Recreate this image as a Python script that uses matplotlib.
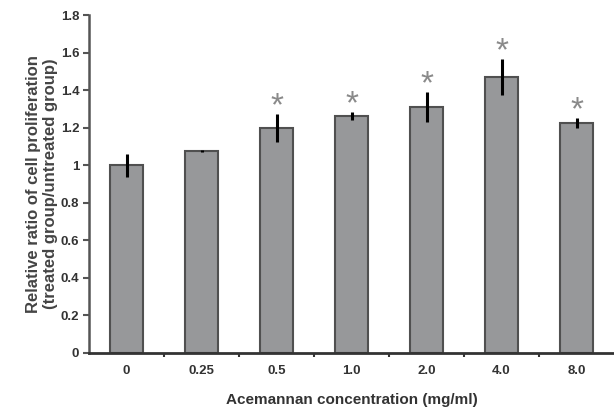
import numpy as np
import matplotlib.pyplot as plt

plt.rcParams['font.family'] = ['Liberation Sans', 'DejaVu Sans']

concentrations = ['0', '0.25', '0.5', '1.0', '2.0', '4.0', '8.0']
ratios = [1.0, 1.077, 1.198, 1.262, 1.31, 1.471, 1.225]
errors = [0.06, 0.005, 0.075, 0.02, 0.08, 0.095, 0.027]
significant = [False, False, True, True, True, True, True]

fig = plt.figure(figsize=(6.14, 4.08), dpi=100)
ax = fig.add_axes([0.145, 0.135, 0.855, 0.828])

x = np.arange(len(concentrations))
ax.bar(x, ratios, width=0.45, color='#97989a', edgecolor='#505050', linewidth=1.5, zorder=2)
ax.errorbar(x, ratios, yerr=errors, fmt='none',
            ecolor='black', elinewidth=2.2, capsize=0, zorder=3)

for xi, r, e, s in zip(x, ratios, errors, significant):
    if s:
        ax.annotate('*', (xi, r + e), xytext=(0, -6), textcoords='offset points',
                    ha='center', va='bottom', fontsize=24, color='#8a8a8a')

ax.set_xlim(-0.5, len(concentrations) - 0.5)
ax.set_ylim(0, 1.8)
ax.set_yticks(np.arange(0, 1.81, 0.2))
ax.set_yticklabels(['0', '0.2', '0.4', '0.6', '0.8', '1', '1.2', '1.4', '1.6', '1.8'])
ax.set_xticks(x)
ax.set_xticklabels(concentrations)
ax.set_xticks(x[:-1] + 0.5, minor=True)
ax.tick_params(axis='x', which='major', length=0, pad=9)
ax.tick_params(axis='x', which='minor', length=3, width=1.5, color='#333333')
ax.tick_params(axis='y', length=4, width=1.5, color='#555555', pad=3)
for lab in ax.get_xticklabels() + ax.get_yticklabels():
    lab.set_fontsize(9.5)
    lab.set_fontweight('bold')
    lab.set_color('#333333')

for side in ['top', 'right']:
    ax.spines[side].set_visible(False)
ax.spines['left'].set_color('#555555')
ax.spines['left'].set_linewidth(1.8)
ax.spines['bottom'].set_color('#333333')
ax.spines['bottom'].set_linewidth(2)

ax.set_xlabel('Acemannan concentration (mg/ml)', fontsize=11, fontweight='bold', color='#333333', labelpad=11)
ax.set_ylabel('Relative ratio of cell proliferation\n(treated group/untreated group)', fontsize=12,
              fontweight='bold', color='#444444', labelpad=2)

fig.savefig('out.png', dpi=100)
